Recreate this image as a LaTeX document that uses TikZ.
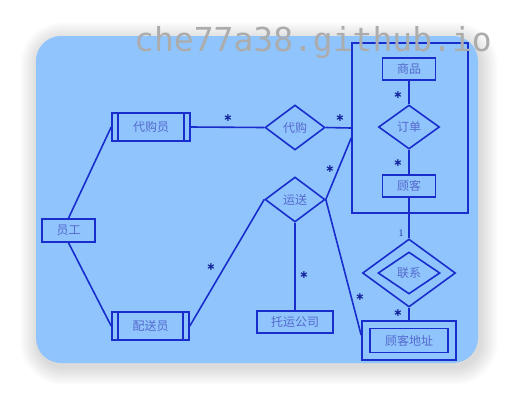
\documentclass[tikz,border=0pt]{standalone}
\usepackage{fontspec}
\newfontfamily\cjk{Noto Sans CJK SC}
\newfontfamily\wmfont{DejaVu Sans Mono}
\newfontfamily\djv{DejaVu Sans}
\usetikzlibrary{shapes.geometric,calc}
\definecolor{bgblue}{RGB}{143,197,252}
\definecolor{ln}{RGB}{25,45,205}
\definecolor{tx}{RGB}{85,105,205}
\definecolor{wmgray}{RGB}{172,172,172}
\tikzset{
  base/.style={draw=ln, line width=1.6pt, inner sep=0pt, text=tx, font=\cjk\fontsize{12}{12}\selectfont},
  ent/.style={base, rectangle, minimum width=53pt, minimum height=22pt},
  rel/.style={base, diamond, minimum width=60pt, minimum height=45pt},
  conn/.style={draw=ln, line width=1.6pt},
  mult/.style={inner sep=0pt, text=ln!75!black, font=\djv\bfseries\fontsize{11}{11}\selectfont},
}
\begin{document}
\begin{tikzpicture}[x=1pt,y=-1pt]
\useasboundingbox (0,0) rectangle (514,400);
\fill[white] (0,0) rectangle (514,400);
% shadow
\foreach \i in {1,...,18}{
  \fill[black, opacity=0.009, rounded corners={25+\i}] ({36-\i+2},{36-\i+4}) rectangle ({478+\i+2},{363+\i+4});
}
% blue panel
\fill[bgblue, rounded corners=25] (36,36) rectangle (478,363);

% aggregation box
\node[base, rectangle, minimum width=116pt, minimum height=170pt] (agg) at (410,128) {};
% entities
\node[ent] (goods) at (409,69) {商品};
\node[rel, minimum width=61pt, minimum height=44pt] (order) at (409,127) {订单};
\node[ent] (cust) at (409,186) {顾客};
\node[ent, minimum height=23pt] (emp) at (68.5,230.5) {员工};
\node[ent, minimum width=78pt, minimum height=28pt] (buyer) at (151,127) {代购员};
\node[ent, minimum width=77pt, minimum height=28pt] (deliv) at (150.5,326) {配送员};
\node[rel] (dgou) at (295,127.5) {代购};
\node[rel] (ship) at (295,199.5) {运送};
\node[ent, minimum width=76pt] (carrier) at (295,322) {托运公司};
\node[base, diamond, minimum width=93pt, minimum height=68pt] (contact) at (409,273) {};
\node[base, diamond, minimum width=62pt, minimum height=42pt] (contactin) at (409,273) {联系};
\node[base, rectangle, minimum width=94pt, minimum height=39pt] (addr) at (409,340.5) {};
\node[ent, minimum width=78pt, minimum height=24pt] (addrin) at (409,340.5) {顾客地址};

% inner bars of role entities
\draw[conn] ($(buyer.north west)+(7,0)$) -- ($(buyer.south west)+(7,0)$);
\draw[conn] ($(buyer.north east)+(-7,0)$) -- ($(buyer.south east)+(-7,0)$);
\draw[conn] ($(deliv.north west)+(7,0)$) -- ($(deliv.south west)+(7,0)$);
\draw[conn] ($(deliv.north east)+(-7,0)$) -- ($(deliv.south east)+(-7,0)$);

% connection points
\coordinate (aggship) at ($(agg.west)+(0,10)$);
\coordinate (addrship) at ($(addr.north west)+(0,15)$);

% connectors
\draw[conn] (emp.north) -- (buyer.west);
\draw[conn] (emp.south) -- (deliv.west);
\draw[conn] (buyer.east) -- (dgou.west);
\draw[conn] (dgou.east) -- (agg.west);
\draw[conn] (deliv.east) -- (ship.west);
\draw[conn] (ship.east) -- (aggship);
\draw[conn] (ship.south) -- (carrier.north);
\draw[conn] (ship.east) -- (addrship);
\draw[conn] (goods.south) -- (order.north);
\draw[conn] (order.south) -- (cust.north);
\draw[conn] (cust.south) -- (contact.north);
\draw[conn] (contact.south) -- (addr.north);

% multiplicities
\node[mult] (m1) at (228,118) {∗};
\node[mult] (m2) at (340,118) {∗};
\node[mult] (m3) at (398,95) {∗};
\node[mult] (m4) at (398,163) {∗};
\node[mult] (m5) at (330,169) {∗};
\node[mult] (m6) at (211,267) {∗};
\node[mult] (m7) at (304,275) {∗};
\node[mult] (m8) at (360,297) {∗};
\node[mult] (m9) at (398,313) {∗};
\node[mult, font=\fontsize{10}{10}\selectfont] (one) at (401,233) {1};

% watermark
\node[anchor=base west, inner sep=0pt, text=wmgray, font=\wmfont\fontsize{33}{33}\selectfont] (wm) at (134,51) {che77a38.github.io};
\end{tikzpicture}
\end{document}
